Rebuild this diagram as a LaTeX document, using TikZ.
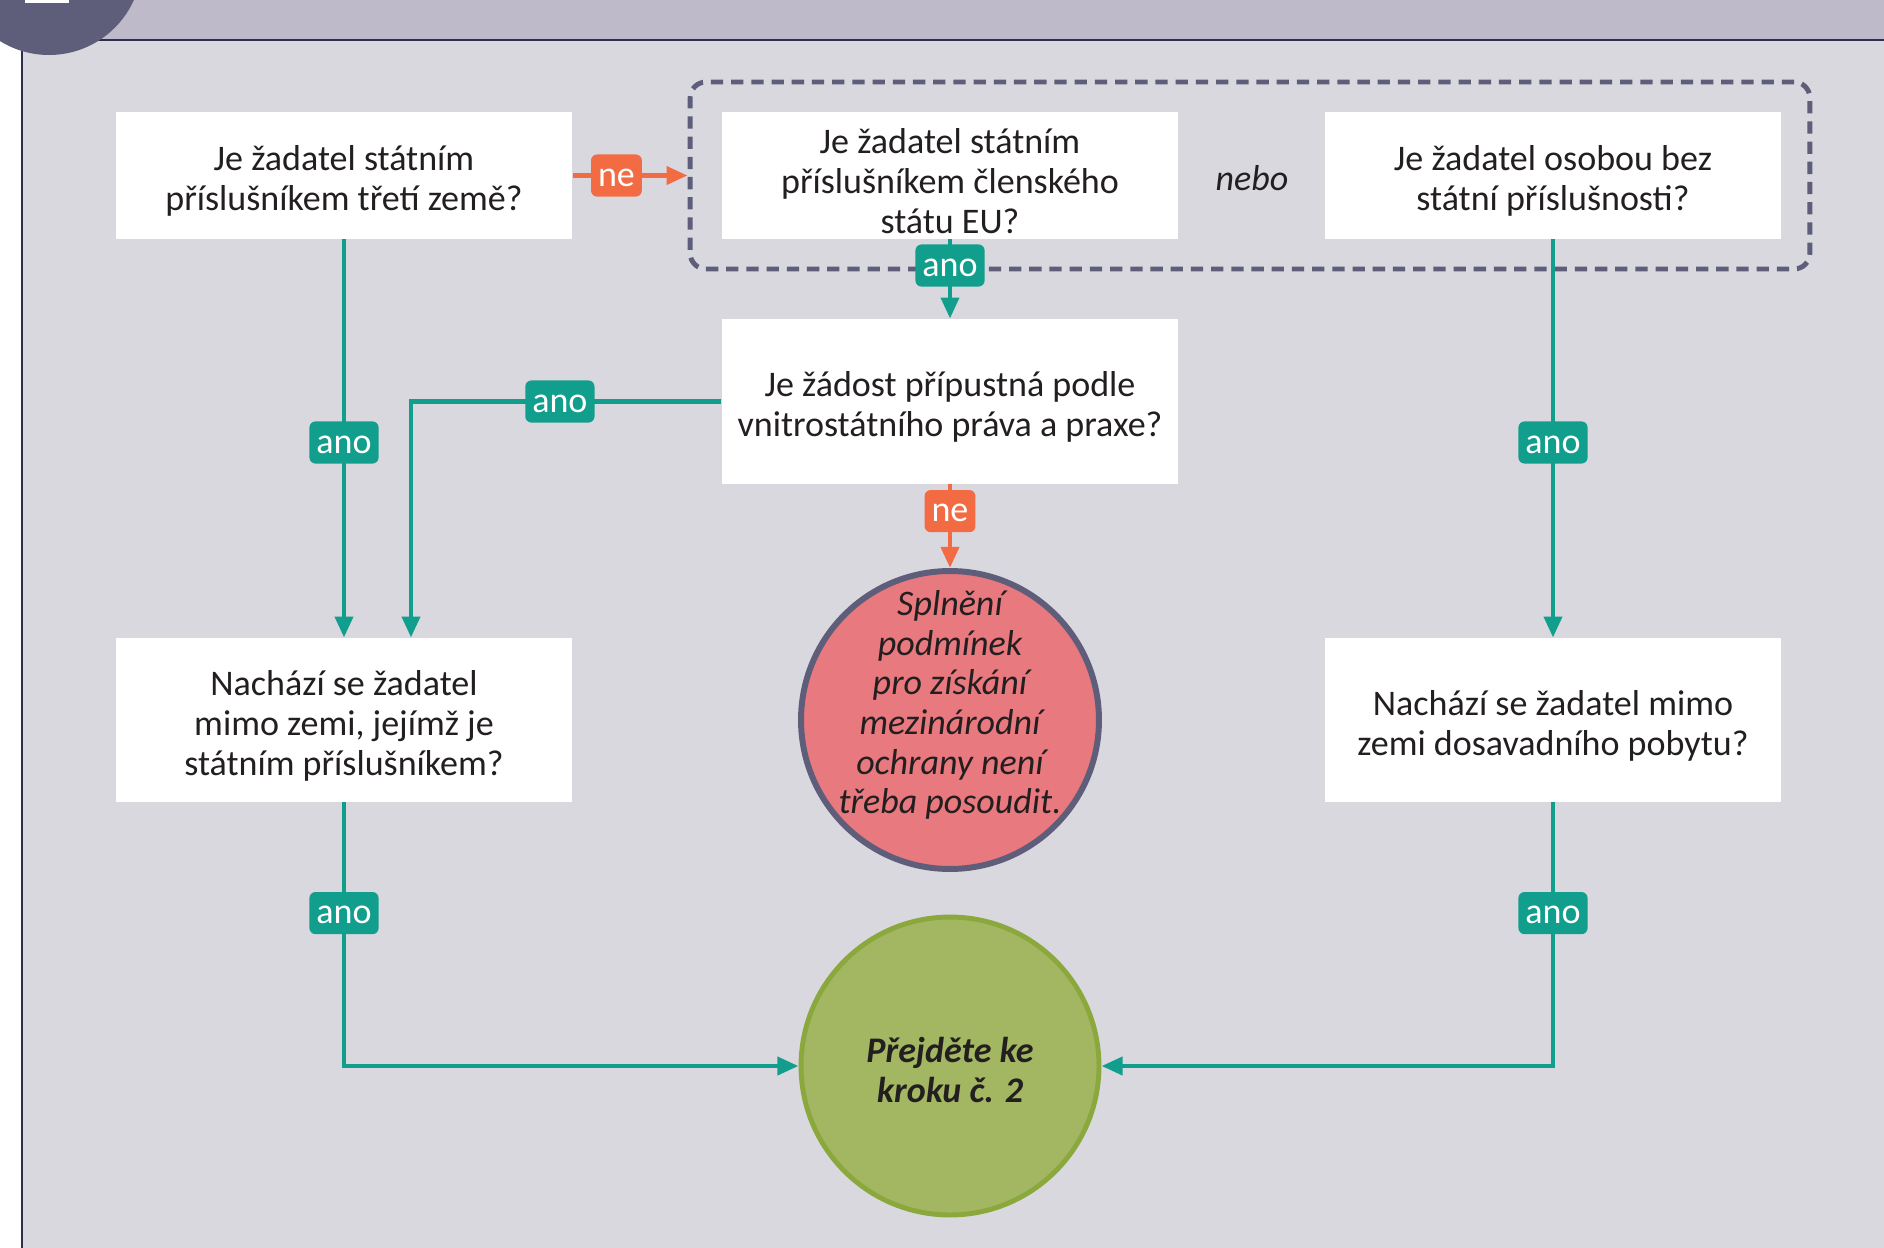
\documentclass[tikz,border=0pt]{standalone}
\usepackage{fontspec}
\setmainfont{Carlito}
\usetikzlibrary{arrows.meta,positioning}

\definecolor{bgpanel}{RGB}{217,216,223}
\definecolor{bghead}{RGB}{190,186,201}
\definecolor{navy}{RGB}{94,94,123}
\definecolor{headline}{RGB}{46,46,78}
\definecolor{anoteal}{RGB}{18,158,140}
\definecolor{neorange}{RGB}{242,107,67}
\definecolor{stopred}{RGB}{232,121,126}
\definecolor{gofill}{RGB}{163,183,98}
\definecolor{goline}{RGB}{138,168,60}
\definecolor{txt}{RGB}{35,31,32}

\begin{document}
\begin{tikzpicture}[x=0.02cm,y=-0.02cm,
      every node/.style={font=\fontsize{20.5}{22.8}\selectfont, text=txt},
      question/.style={fill=white, align=flush center, inner sep=0pt,
        text width=8.8cm, minimum width=9.14cm, minimum height=2.54cm,
        execute at begin node={\rule{0pt}{20.5pt}}},
      grp/.style={draw=navy, line width=2.8pt, dash pattern=on 7pt off 4.5pt,
        rounded corners=9pt, minimum width=22.4cm, minimum height=3.74cm},
      ano/.style={fill=anoteal, text=white, rounded corners=3.5pt,
        inner xsep=4pt, inner ysep=0pt, minimum height=24pt,
        text height=12pt, text depth=0pt},
      ne/.style={ano, fill=neorange},
      yes/.style={draw=anoteal, line width=2.8pt,
        -{Triangle[width=10pt,length=12pt]}},
      no/.style={yes, draw=neorange},
      endcirc/.style={circle, minimum size=5.96cm, inner sep=0pt}]
      \useasboundingbox (0,0) rectangle (1884,1248);
      \fill[white] (0,0) rectangle (1884,1248);
      \fill[bgpanel] (22,40) rectangle (1884,1248);
      \fill[bghead] (0,0) rectangle (1884,40);
      \draw[headline, line width=0.8pt] (22,1248) -- (22,40) -- (1884,40);
      \fill[navy] (49,-38) circle (93);
      \fill[white] (25,0) rectangle (69,3);

      \node[question] (third) at (344,175.5) {Je žadatel státním\\
        příslušníkem třetí země?};
      \node[question, execute at begin node={}] (member) at
        (950,175.5) {Je žadatel státním\\ příslušníkem členského\\ státu EU?};
      \node[question] (stateless) at (1553,175.5) {Je žadatel osobou bez\\
        státní příslušnosti?};
      \node[grp] (grp) at (1250,175.5) {};
      \node (nebo) at (1252,178) {\itshape nebo};

      \node[question, minimum height=3.3cm] (admiss) at (950,401.5)
        {Je žádost přípustná podle\\ vnitrostátního práva a praxe?};
      \node[question, minimum height=3.28cm] (outnat) at (344,720)
        {Nachází se žadatel\\ mimo zemi, jejímž je\\ státním příslušníkem?};
      \node[question, minimum height=3.28cm] (outres) at (1553,720)
        {Nachází se žadatel mimo\\ zemi dosavadního pobytu?};

      \node[endcirc, fill=stopred, draw=navy, line width=3.4pt] (stop) at
        (950,720) {};
      \node[align=center, font=\fontsize{20.5}{22.6}\selectfont\itshape]
        (stoptxt) at (950,705) {Splnění\\ podmínek\\ pro získání\\
        mezinárodní\\ ochrany není\\ třeba posoudit.};
      \node[endcirc, fill=gofill, draw=goline, line width=2.8pt] (next) at
        (950,1066) {};
      \node[align=center, font=\fontsize{20.5}{22.8}\selectfont\bfseries\itshape]
        (nexttxt) at (950,1070) {Přejděte ke\\ kroku č. 2};

      \coordinate (turn) at (411,401.5);

      \draw[no] (third) -- node[ne, pos=0.38] {ne} (grp);
      \draw[yes] (member) -- node[ano, pos=0.33] {ano} (admiss);
      \draw[yes] (third) -- node[ano, pos=0.51] {ano} (outnat);
      \draw[yes] (stateless) -- node[ano, pos=0.51] {ano} (outres);
      \draw[yes] (admiss.west) -| node[ano, pos=0.26] {ano}
        (outnat.north -| turn);
      \draw[no] (admiss) -- node[ne, pos=0.32] {ne} (stop);
      \draw[yes] (outnat) |- node[ano, pos=0.21] {ano} (next);
      \draw[yes] (outres) |- node[ano, pos=0.21] {ano} (next);
    \end{tikzpicture}
\end{document}
